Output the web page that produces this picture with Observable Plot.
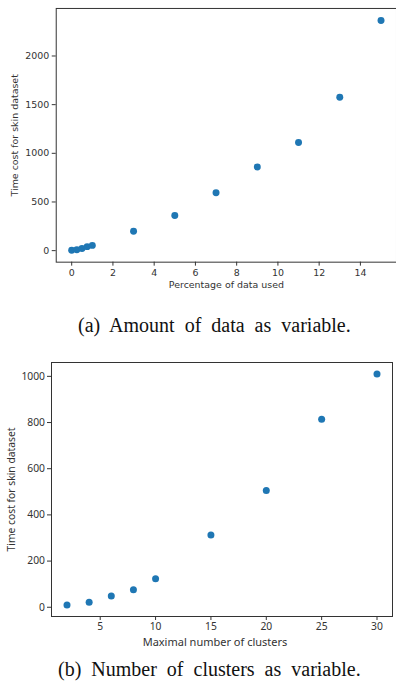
<!DOCTYPE html>
<html>
<head>
<meta charset="utf-8">
<script src="https://cdn.jsdelivr.net/npm/d3@7"></script>
<script src="https://cdn.jsdelivr.net/npm/@observablehq/plot@0.6"></script>
<style>
  html, body { margin: 0; padding: 0; background: #fff; }
  #page { position: relative; width: 396px; height: 687px; overflow: hidden; }
  .chart { position: absolute; left: 0; }
  .caption { position: absolute; font-family: "Liberation Serif", "Times New Roman", serif;
    font-size: 20px; line-height: 20px; color: #111; white-space: nowrap; word-spacing: 5px; }
</style>
</head>
<body>
<div id="page">
  <div id="chartA" class="chart" style="top:0px"></div>
  <div class="caption" style="top:315px; left:78px">(a) Amount of data as variable.</div>
  <div id="chartB" class="chart" style="top:340px"></div>
  <div class="caption" style="top:659px; left:58px">(b) Number of clusters as variable.</div>
</div>
<script>
// ---- Chart (a): amount of data ----
const pctUsed = [0, 0.25, 0.5, 0.75, 1, 3, 5, 7, 9, 11, 13, 15];
const timeA = [3, 10, 23, 41, 54, 200, 361, 594, 860, 1112, 1576, 2364];
const xTicksA = [0, 2, 4, 6, 8, 10, 12, 14];
const yTicksA = [0, 500, 1000, 1500, 2000];
const xLabelA = "Percentage of data used";
const yLabel = "Time cost for skin dataset";

// ---- Chart (b): number of clusters ----
const clusters = [2, 4, 6, 8, 10, 15, 20, 25, 30];
const timeB = [10, 22, 49, 76, 123, 313, 506, 814, 1010];
const xTicksB = [5, 10, 15, 20, 25, 30];
const yTicksB = [0, 200, 400, 600, 800, 1000];
const xLabelB = "Maximal number of clusters";

const blue = "#1f77b4";
const ink = "#333333";

const dataA = pctUsed.map((x, i) => ({x, y: timeA[i]}));
const dataB = clusters.map((x, i) => ({x, y: timeB[i]}));

const chartA = Plot.plot({
  width: 398, height: 302,
  marginLeft: 56, marginRight: 0, marginTop: 8, marginBottom: 39,
  style: {fontFamily: "DejaVu Sans", fontSize: "9.5px", color: ink, background: "transparent"},
  x: {domain: [-0.75, 15.75]},
  y: {domain: [-118.5, 2488.5]},
  marks: [
    Plot.frame({stroke: ink, strokeWidth: 1}),
    Plot.axisX(xTicksA, {tickSize: 4, tickPadding: 3, tickFormat: d => String(d), label: null}),
    Plot.axisY(yTicksA, {tickSize: 4, tickPadding: 3, tickFormat: d => String(d), label: null}),
    Plot.text([xLabelA], {text: d => d, frameAnchor: "bottom", dy: 23, lineAnchor: "middle", textAnchor: "middle", fill: ink}),
    Plot.text([yLabel], {text: d => d, frameAnchor: "left", rotate: -90, dx: -41, lineAnchor: "middle", textAnchor: "middle", fill: ink}),
    Plot.dot(dataA, {x: "x", y: "y", r: 3.5, fill: blue, stroke: "none"})
  ]
});
document.getElementById("chartA").appendChild(chartA);

const chartB = Plot.plot({
  width: 396, height: 310,
  marginLeft: 51, marginRight: 4, marginTop: 22, marginBottom: 34,
  style: {fontFamily: "Noto Sans", fontSize: "10.3px", color: ink, background: "transparent"},
  x: {domain: [0.6, 31.4]},
  y: {domain: [-40, 1060]},
  marks: [
    Plot.frame({stroke: ink, strokeWidth: 1}),
    Plot.axisX(xTicksB, {tickSize: 4, tickPadding: 2, tickFormat: d => String(d), label: null}),
    Plot.axisY(yTicksB, {tickSize: 4, tickPadding: 2.5, tickFormat: d => String(d), label: null}),
    Plot.text([xLabelB], {text: d => d, frameAnchor: "bottom", dy: 26, dx: -7, fontSize: 11, lineAnchor: "middle", textAnchor: "middle", fill: ink}),
    Plot.text([yLabel], {text: d => d, frameAnchor: "left", rotate: -90, dx: -40, lineAnchor: "middle", textAnchor: "middle", fill: ink}),
    Plot.dot(dataB, {x: "x", y: "y", r: 3.5, fill: blue, stroke: "none"})
  ]
});
document.getElementById("chartB").appendChild(chartB);
</script>
</body>
</html>
